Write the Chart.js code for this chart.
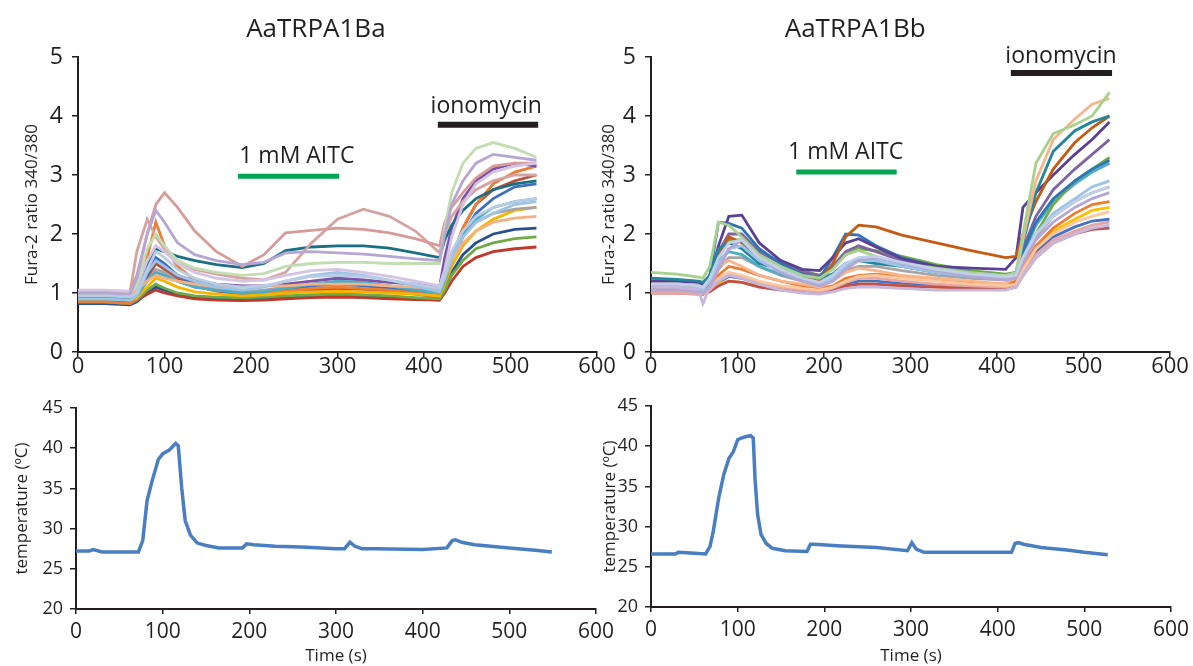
<!DOCTYPE html>
<html>
<head>
<meta charset="utf-8">
<script src="https://cdn.jsdelivr.net/npm/chart.js@4.4.1/dist/chart.umd.min.js"></script>
<style>
  body { margin: 0; background: #fff; }
  #wrap { position: relative; width: 1193px; height: 666px; overflow: hidden; }
  .panel { position: absolute; }
</style>
</head>
<body>
<div id="wrap">
  <div class="panel" style="left:0;top:0"><canvas id="furaBa" width="620" height="385"></canvas></div>
  <div class="panel" style="left:590px;top:0"><canvas id="furaBb" width="603" height="385"></canvas></div>
  <div class="panel" style="left:0;top:385px"><canvas id="tempBa" width="620" height="281"></canvas></div>
  <div class="panel" style="left:590px;top:385px"><canvas id="tempBb" width="603" height="281"></canvas></div>
</div>
<script>
const FONT = "'Open Sans', 'DejaVu Sans', sans-serif";
const INK = '#231F20';

// ---- AaTRPA1Ba, Fura-2 ratio traces ----
const baTime = [0, 30, 60, 68, 80, 90, 100, 115, 135, 160, 190, 215, 240, 270, 300, 330, 360, 390, 418, 424, 432, 445, 460, 480, 505, 530];
const baRoseA = [1.02, 1.03, 1.02, 1.3, 2.0, 2.5, 2.7, 2.45, 2.05, 1.7, 1.45, 1.65, 2.02, 2.06, 2.1, 2.08, 2.02, 1.92, 1.8, 2.2, 2.45, 2.7, 2.95, 3.15, 3.2, 3.2];
const baRoseB = [1.0, 1.0, 1.0, 1.7, 2.25, 1.95, 1.75, 1.55, 1.4, 1.32, 1.25, 1.22, 1.35, 1.85, 2.25, 2.42, 2.3, 2.05, 1.68, 2.0, 2.3, 2.55, 2.75, 2.9, 3.0, 3.0];
const baTeal = [0.92, 0.93, 0.9, 1.0, 1.45, 1.75, 1.7, 1.62, 1.55, 1.48, 1.43, 1.5, 1.72, 1.78, 1.8, 1.8, 1.76, 1.68, 1.6, 1.9, 2.15, 2.4, 2.6, 2.75, 2.85, 2.9];
const baLavender = [1.0, 1.0, 0.98, 1.25, 2.0, 2.4, 2.2, 1.85, 1.65, 1.55, 1.48, 1.52, 1.68, 1.7, 1.68, 1.66, 1.62, 1.58, 1.55, 2.0, 2.5, 2.9, 3.2, 3.35, 3.3, 3.25];
const baPaleGreen = [1.0, 1.0, 0.98, 1.15, 1.75, 2.0, 1.8, 1.55, 1.42, 1.35, 1.3, 1.33, 1.45, 1.5, 1.52, 1.52, 1.5, 1.5, 1.5, 2.1, 2.7, 3.2, 3.45, 3.55, 3.45, 3.3];
const baPurple = [0.95, 0.95, 0.92, 1.0, 1.4, 1.55, 1.45, 1.3, 1.2, 1.15, 1.12, 1.12, 1.15, 1.2, 1.25, 1.22, 1.18, 1.15, 1.1, 1.6, 2.1, 2.6, 2.9, 3.1, 3.2, 3.15];
const baOrange = [0.85, 0.85, 0.82, 0.9, 1.6, 2.2, 1.8, 1.45, 1.22, 1.08, 1.0, 1.0, 1.03, 1.08, 1.1, 1.08, 1.05, 1.0, 0.95, 1.2, 1.6, 2.1, 2.5, 2.85, 3.05, 3.15];
const baBlue = [0.85, 0.85, 0.82, 0.9, 1.3, 1.6, 1.5, 1.3, 1.15, 1.05, 1.0, 1.0, 1.05, 1.12, 1.15, 1.12, 1.08, 1.02, 0.95, 1.2, 1.55, 2.0, 2.35, 2.6, 2.8, 2.85];
const baSky = [0.9, 0.9, 0.88, 0.95, 1.35, 1.55, 1.45, 1.3, 1.2, 1.1, 1.05, 1.1, 1.2, 1.3, 1.35, 1.3, 1.22, 1.12, 1.02, 1.25, 1.6, 1.95, 2.2, 2.35, 2.5, 2.55];
const baGold = [0.9, 0.9, 0.88, 0.92, 1.1, 1.25, 1.2, 1.1, 1.02, 0.98, 0.95, 0.97, 1.0, 1.02, 1.03, 1.02, 1.0, 0.98, 0.95, 1.15, 1.45, 1.8, 2.05, 2.25, 2.4, 2.45];
const baGreen = [0.85, 0.85, 0.82, 0.88, 1.05, 1.15, 1.08, 1.0, 0.95, 0.93, 0.92, 0.93, 0.95, 0.97, 0.98, 0.97, 0.95, 0.92, 0.9, 1.05, 1.3, 1.55, 1.75, 1.85, 1.92, 1.95];
const baRed = [0.85, 0.85, 0.83, 0.88, 0.98, 1.05, 1.0, 0.95, 0.9, 0.88, 0.87, 0.88, 0.9, 0.92, 0.93, 0.92, 0.9, 0.89, 0.88, 1.0, 1.2, 1.45, 1.6, 1.7, 1.75, 1.78];
const baNavy = [0.82, 0.82, 0.8, 0.85, 1.0, 1.1, 1.05, 0.98, 0.93, 0.9, 0.88, 0.9, 0.93, 0.95, 0.95, 0.94, 0.92, 0.9, 0.88, 1.05, 1.35, 1.65, 1.85, 2.0, 2.08, 2.1];
const baGrey = [0.95, 0.95, 0.93, 1.0, 1.2, 1.4, 1.35, 1.2, 1.1, 1.05, 1.02, 1.05, 1.1, 1.15, 1.18, 1.15, 1.12, 1.08, 1.05, 1.25, 1.6, 1.95, 2.2, 2.35, 2.42, 2.45];
const baPeach = [1.0, 1.0, 0.98, 1.05, 1.2, 1.3, 1.25, 1.2, 1.15, 1.1, 1.1, 1.12, 1.12, 1.15, 1.15, 1.15, 1.12, 1.1, 1.08, 1.25, 1.55, 1.85, 2.05, 2.2, 2.27, 2.3];
const baLilac = [1.05, 1.05, 1.03, 1.1, 1.55, 1.8, 1.7, 1.5, 1.35, 1.25, 1.2, 1.22, 1.3, 1.38, 1.4, 1.35, 1.28, 1.2, 1.12, 1.4, 1.95, 2.5, 2.85, 3.05, 3.15, 3.2];
const baCyan = [0.9, 0.9, 0.88, 0.95, 1.2, 1.35, 1.3, 1.2, 1.1, 1.05, 1.0, 1.02, 1.08, 1.15, 1.2, 1.18, 1.12, 1.05, 1.0, 1.2, 1.55, 1.95, 2.25, 2.45, 2.55, 2.6];
const baRust = [0.88, 0.88, 0.86, 0.92, 1.25, 1.5, 1.4, 1.25, 1.12, 1.03, 0.98, 0.98, 1.0, 1.05, 1.08, 1.06, 1.02, 0.98, 0.93, 1.2, 1.6, 2.1, 2.5, 2.75, 2.9, 3.0];
const baPaleBlue = [0.95, 0.95, 0.93, 1.0, 1.4, 1.7, 1.6, 1.4, 1.25, 1.15, 1.1, 1.12, 1.2, 1.28, 1.3, 1.28, 1.22, 1.15, 1.08, 1.3, 1.7, 2.05, 2.3, 2.45, 2.55, 2.6];
const baSeries = [baPaleBlue, baLavender, baPaleGreen, baSky, baLilac, baPeach, baRoseA, baRoseB, baTeal, baCyan, baGrey, baGold, baPurple, baOrange, baBlue, baGreen, baRed, baNavy, baRust];
const baColors = ['#B8CCE4', '#B5A6D3', '#C2DDB0', '#9DC3E6', '#D5C3E3', '#F4B183', '#D99A9A', '#D6A3A3', '#1B6F84', '#4BACC6', '#A5A5A5', '#F5B400', '#7B52A8', '#ED7D31', '#3D6FC0', '#6FAA45', '#C0392B', '#27508F', '#B5523B'];

// ---- AaTRPA1Bb, Fura-2 ratio traces ----
const bbTime = [0, 30, 55, 60, 68, 78, 90, 105, 125, 150, 175, 195, 210, 225, 240, 260, 290, 330, 370, 410, 422, 430, 445, 465, 490, 510, 530];
const bbPaleGreen = [1.35, 1.32, 1.27, 1.25, 1.45, 2.2, 2.15, 1.95, 1.65, 1.45, 1.3, 1.25, 1.4, 1.65, 1.72, 1.62, 1.5, 1.42, 1.35, 1.3, 1.35, 2.0, 3.2, 3.7, 3.85, 4.0, 4.4];
const bbPeach = [1.15, 1.15, 1.12, 1.1, 1.2, 1.45, 1.55, 1.45, 1.3, 1.2, 1.15, 1.1, 1.2, 1.35, 1.42, 1.38, 1.3, 1.25, 1.2, 1.15, 1.3, 1.9, 2.9, 3.6, 3.95, 4.2, 4.3];
const bbTeal = [1.25, 1.23, 1.2, 1.18, 1.3, 1.75, 1.85, 1.75, 1.5, 1.4, 1.3, 1.25, 1.32, 1.5, 1.55, 1.5, 1.45, 1.35, 1.3, 1.25, 1.35, 1.85, 2.7, 3.4, 3.75, 3.9, 4.0];
const bbRust = [1.1, 1.1, 1.08, 1.05, 1.2, 1.6, 1.95, 1.85, 1.55, 1.38, 1.25, 1.2, 1.5, 1.95, 2.15, 2.12, 1.98, 1.85, 1.72, 1.6, 1.62, 2.0, 2.55, 3.1, 3.55, 3.8, 4.0];
const bbPurple = [1.2, 1.2, 1.18, 1.15, 1.25, 1.8, 2.3, 2.32, 1.85, 1.55, 1.4, 1.38, 1.6, 1.85, 1.92, 1.78, 1.58, 1.45, 1.42, 1.4, 1.6, 2.45, 2.7, 3.0, 3.35, 3.6, 3.9];
const bbBlue = [1.15, 1.15, 1.12, 1.1, 1.3, 2.2, 2.18, 2.1, 1.75, 1.5, 1.32, 1.25, 1.6, 2.0, 1.98, 1.8, 1.6, 1.45, 1.35, 1.3, 1.35, 1.7, 2.2, 2.6, 2.9, 3.1, 3.25];
const bbViolet = [1.1, 1.1, 1.08, 1.05, 1.2, 1.7, 2.0, 2.0, 1.7, 1.5, 1.35, 1.3, 1.45, 1.7, 1.8, 1.7, 1.55, 1.42, 1.35, 1.3, 1.35, 1.75, 2.3, 2.75, 3.1, 3.35, 3.6];
const bbGreen = [1.1, 1.1, 1.08, 1.05, 1.2, 1.6, 1.9, 1.9, 1.7, 1.52, 1.38, 1.3, 1.42, 1.65, 1.75, 1.72, 1.62, 1.48, 1.38, 1.32, 1.35, 1.6, 2.0, 2.5, 2.9, 3.1, 3.3];
const bbCyan = [1.15, 1.15, 1.12, 1.1, 1.25, 1.55, 1.7, 1.65, 1.45, 1.32, 1.22, 1.18, 1.3, 1.5, 1.58, 1.55, 1.45, 1.35, 1.28, 1.25, 1.3, 1.65, 2.15, 2.55, 2.85, 3.05, 3.2];
const bbSky = [1.1, 1.1, 1.08, 1.05, 1.2, 1.5, 1.75, 1.8, 1.55, 1.35, 1.22, 1.15, 1.25, 1.45, 1.55, 1.55, 1.45, 1.35, 1.28, 1.25, 1.3, 1.6, 2.0, 2.35, 2.6, 2.8, 2.9];
const bbGrey = [1.1, 1.1, 1.08, 1.05, 1.15, 1.4, 1.6, 1.6, 1.45, 1.3, 1.2, 1.15, 1.22, 1.38, 1.45, 1.45, 1.38, 1.3, 1.25, 1.22, 1.28, 1.55, 1.95, 2.3, 2.55, 2.7, 2.8];
const bbLavender = [1.05, 1.05, 1.02, 1.0, 1.1, 1.4, 1.75, 1.9, 1.6, 1.35, 1.2, 1.12, 1.2, 1.4, 1.55, 1.6, 1.5, 1.38, 1.28, 1.22, 1.25, 1.5, 1.9, 2.2, 2.45, 2.6, 2.7];
const bbOrange = [1.05, 1.05, 1.02, 1.0, 1.1, 1.3, 1.45, 1.4, 1.3, 1.2, 1.12, 1.08, 1.12, 1.25, 1.3, 1.32, 1.28, 1.22, 1.18, 1.15, 1.2, 1.45, 1.8, 2.1, 2.35, 2.5, 2.55];
const bbPink = [1.0, 1.0, 0.98, 0.98, 1.05, 1.2, 1.3, 1.28, 1.18, 1.1, 1.05, 1.02, 1.08, 1.18, 1.25, 1.25, 1.2, 1.15, 1.12, 1.1, 1.15, 1.35, 1.65, 1.9, 2.05, 2.15, 2.2];
const bbRed = [1.0, 1.0, 0.98, 0.98, 1.02, 1.12, 1.2, 1.18, 1.1, 1.05, 1.02, 1.0, 1.05, 1.12, 1.15, 1.15, 1.12, 1.1, 1.08, 1.06, 1.1, 1.3, 1.6, 1.85, 2.0, 2.08, 2.1];
const bbLilac = [1.1, 1.1, 1.05, 0.82, 1.1, 1.2, 1.3, 1.25, 1.15, 1.05, 1.0, 0.98, 1.02, 1.08, 1.1, 1.1, 1.08, 1.05, 1.05, 1.05, 1.1, 1.3, 1.6, 1.85, 2.0, 2.1, 2.15];
const bbApricot = [1.05, 1.05, 1.02, 1.0, 1.08, 1.25, 1.35, 1.3, 1.2, 1.12, 1.08, 1.05, 1.1, 1.2, 1.28, 1.3, 1.25, 1.2, 1.15, 1.12, 1.15, 1.4, 1.75, 2.0, 2.2, 2.3, 2.38];
const bbGold = [1.05, 1.05, 1.02, 1.0, 1.06, 1.15, 1.2, 1.18, 1.12, 1.08, 1.05, 1.03, 1.06, 1.12, 1.15, 1.15, 1.12, 1.1, 1.08, 1.06, 1.1, 1.4, 1.75, 2.05, 2.25, 2.4, 2.45];
const bbNavy = [1.02, 1.02, 1.0, 0.98, 1.05, 1.18, 1.28, 1.25, 1.15, 1.08, 1.04, 1.02, 1.06, 1.14, 1.2, 1.2, 1.16, 1.12, 1.1, 1.08, 1.12, 1.35, 1.7, 1.95, 2.12, 2.22, 2.25];
const bbPaleBlue = [1.15, 1.15, 1.12, 1.1, 1.25, 1.6, 1.85, 1.9, 1.6, 1.4, 1.25, 1.18, 1.3, 1.5, 1.6, 1.62, 1.52, 1.4, 1.32, 1.28, 1.3, 1.6, 2.0, 2.3, 2.55, 2.7, 2.8];
const bbSeries = [bbPaleBlue, bbLavender, bbLilac, bbSky, bbApricot, bbPaleGreen, bbPeach, bbTeal, bbRust, bbPurple, bbBlue, bbViolet, bbGreen, bbCyan, bbGrey, bbOrange, bbPink, bbRed, bbGold, bbNavy];
const bbColors = ['#BFD0E8', '#B4A7D6', '#C7B6DD', '#9DC3E6', '#FBC79F', '#A9D18E', '#F8B58B', '#23879B', '#C55A11', '#5B3E96', '#2E75B6', '#8064A2', '#70AD47', '#4BACC6', '#A5A5A5', '#ED7D31', '#E6A6A6', '#C0504D', '#FFC000', '#4472C4'];

// ---- stimulus bars (s) and their heights on the ratio axis ----
const baAitcSpan = [185, 302];
const baAitcLevel = 2.98;
const baIonoSpan = [416, 532];
const baIonoLevel = 3.85;
const bbAitcSpan = [168, 284];
const bbAitcLevel = 3.05;
const bbIonoSpan = [416, 533];
const bbIonoLevel = 4.73;

// ---- bath temperature (°C) ----
const tempTimeBa = [0, 15, 20, 30, 40, 72, 77, 82, 88, 95, 100, 108, 115, 118, 122, 126, 132, 140, 150, 165, 192, 197, 205, 230, 260, 300, 310, 316, 322, 330, 345, 400, 428, 434, 438, 445, 460, 500, 530, 549];
const tempValsBa = [27.2, 27.2, 27.4, 27.1, 27.1, 27.1, 28.5, 33.5, 36.0, 38.6, 39.3, 39.8, 40.6, 40.3, 35.0, 31.0, 29.2, 28.2, 27.9, 27.6, 27.6, 28.1, 28.0, 27.8, 27.7, 27.5, 27.5, 28.3, 27.8, 27.5, 27.5, 27.4, 27.6, 28.5, 28.6, 28.3, 28.0, 27.6, 27.3, 27.1];
const tempTimeBb = [0, 28, 32, 50, 63, 68, 72, 78, 84, 90, 95, 100, 104, 110, 115, 118, 120, 123, 127, 133, 140, 155, 180, 184, 188, 220, 260, 296, 301, 306, 315, 400, 416, 420, 424, 430, 450, 480, 500, 527];
const tempValsBb = [26.6, 26.6, 26.8, 26.7, 26.6, 27.5, 29.5, 33.5, 36.5, 38.5, 39.3, 40.8, 41.0, 41.2, 41.3, 41.0, 36.0, 31.5, 29.0, 27.9, 27.3, 27.0, 26.9, 27.8, 27.8, 27.6, 27.4, 27.0, 28.0, 27.2, 26.8, 26.8, 26.8, 27.9, 28.0, 27.8, 27.4, 27.1, 26.8, 26.5];

// writes titles and stimulus names at data positions
const panelText = {
    id: 'panelText',
    afterDraw: function (chart, args, opts) {
        const ctx = chart.ctx;
        const xs = chart.scales.x;
        const ys = chart.scales.y;
        ctx.save();
        ctx.fillStyle = INK;
        ctx.textAlign = 'center';
        ctx.textBaseline = 'alphabetic';
        (opts.items || []).forEach(function (it) {
            ctx.font = it.size + 'px ' + FONT;
            ctx.fillText(it.text, xs.getPixelForValue(it.x), ys.getPixelForValue(it.y));
        });
        ctx.restore();
    }
};

function toPoints(time, vals) {
    return vals.map(function (v, i) { return { x: time[i], y: v }; });
}

function traceSets(time, series, colors, width) {
    return series.map(function (vals, i) {
        return {
            data: toPoints(time, vals),
            borderColor: colors[i],
            borderWidth: width,
            pointRadius: 0,
            tension: 0
        };
    });
}

function barSet(span, level, color, width) {
    return {
        data: span.map(function (t) { return { x: t, y: level }; }),
        borderColor: color,
        borderWidth: width,
        borderCapStyle: 'butt',
        pointRadius: 0
    };
}

function panelOptions(cfg) {
    return {
        responsive: false,
        animation: false,
        events: [],
        layout: { padding: { top: cfg.padTop, right: cfg.padRight, bottom: 0, left: 0 } },
        plugins: {
            legend: { display: false },
            tooltip: { enabled: false },
            panelText: { items: cfg.texts || [] }
        },
        scales: {
            x: {
                type: 'linear',
                min: 0,
                max: 600,
                ticks: {
                    stepSize: 100,
                    autoSkip: false,
                    maxRotation: 0,
                    padding: cfg.xTickPad,
                    color: INK,
                    font: { family: FONT, size: cfg.xTickSize }
                },
                grid: { drawOnChartArea: false, drawTicks: true, tickLength: 5, color: INK, lineWidth: 1.5 },
                border: { color: INK, width: 2 },
                title: {
                    display: !!cfg.xTitle,
                    text: cfg.xTitle || '',
                    color: INK,
                    font: { family: FONT, size: 17 },
                    padding: { top: 0, bottom: 0 }
                },
                afterFit: function (s) {
                    s.height = cfg.xHeight;
                    s.paddingLeft = 0;
                    s.paddingRight = 0;
                }
            },
            y: {
                min: cfg.yMin,
                max: cfg.yMax,
                ticks: {
                    stepSize: cfg.yStep,
                    padding: cfg.yTickPad,
                    color: INK,
                    font: { family: FONT, size: cfg.yTickSize }
                },
                grid: { drawOnChartArea: false, drawTicks: true, tickLength: 6, color: INK, lineWidth: 1.5 },
                border: { color: INK, width: 2 },
                title: {
                    display: true,
                    text: cfg.yTitle,
                    color: INK,
                    font: { family: FONT, size: 17 },
                    padding: { top: cfg.yTitlePad, bottom: 0 }
                },
                afterFit: function (s) {
                    s.width = cfg.yWidth;
                    s.paddingTop = 0;
                    s.paddingBottom = 0;
                }
            }
        }
    };
}

new Chart(document.getElementById('furaBa'), {
    type: 'line',
    data: {
        datasets: [
            barSet(baAitcSpan, baAitcLevel, '#00A651', 5),
            barSet(baIonoSpan, baIonoLevel, INK, 6)
        ].concat(traceSets(baTime, baSeries, baColors, 2.8))
    },
    options: panelOptions({
        padTop: 57, padRight: 23, xHeight: 33, yWidth: 78,
        yMin: 0, yMax: 5, yStep: 1, yTickSize: 23, yTickPad: 9,
        xTickSize: 22, xTickPad: -3,
        yTitle: 'Fura-2 ratio 340/380', yTitlePad: 22,
        texts: [
            { text: 'AaTRPA1Ba', x: 275, y: 5.34, size: 26 },
            { text: '1 mM AITC', x: 253, y: 3.2, size: 23 },
            { text: 'ionomycin', x: 472, y: 4.05, size: 23 }
        ]
    }),
    plugins: [panelText]
});

new Chart(document.getElementById('furaBb'), {
    type: 'line',
    data: {
        datasets: [
            barSet(bbAitcSpan, bbAitcLevel, '#00A651', 5),
            barSet(bbIonoSpan, bbIonoLevel, INK, 6)
        ].concat(traceSets(bbTime, bbSeries, bbColors, 2.8))
    },
    options: panelOptions({
        padTop: 57, padRight: 23, xHeight: 33, yWidth: 61,
        yMin: 0, yMax: 5, yStep: 1, yTickSize: 23, yTickPad: 9,
        xTickSize: 22, xTickPad: -3,
        yTitle: 'Fura-2 ratio 340/380', yTitlePad: 9,
        texts: [
            { text: 'AaTRPA1Bb', x: 236, y: 5.34, size: 26 },
            { text: '1 mM AITC', x: 225, y: 3.27, size: 23 },
            { text: 'ionomycin', x: 474, y: 4.9, size: 23 }
        ]
    }),
    plugins: [panelText]
});

new Chart(document.getElementById('tempBa'), {
    type: 'line',
    data: {
        datasets: [{
            data: toPoints(tempTimeBa, tempValsBa),
            borderColor: '#4A7EC2',
            borderWidth: 3.5,
            pointRadius: 0,
            tension: 0
        }]
    },
    options: panelOptions({
        padTop: 23, padRight: 24, xHeight: 57, yWidth: 76,
        yMin: 20, yMax: 45, yStep: 5, yTickSize: 18, yTickPad: 7,
        xTickSize: 21, xTickPad: 5,
        yTitle: 'temperature (ºC)', yTitlePad: 12,
        xTitle: 'Time (s)'
    })
});

new Chart(document.getElementById('tempBb'), {
    type: 'line',
    data: {
        datasets: [{
            data: toPoints(tempTimeBb, tempValsBb),
            borderColor: '#4A7EC2',
            borderWidth: 3.5,
            pointRadius: 0,
            tension: 0
        }]
    },
    options: panelOptions({
        padTop: 21, padRight: 22, xHeight: 59, yWidth: 61,
        yMin: 20, yMax: 45, yStep: 5, yTickSize: 18, yTickPad: 7,
        xTickSize: 21, xTickPad: 5,
        yTitle: 'temperature (ºC)', yTitlePad: 10,
        xTitle: 'Time (s)'
    })
});
</script>
</body>
</html>
